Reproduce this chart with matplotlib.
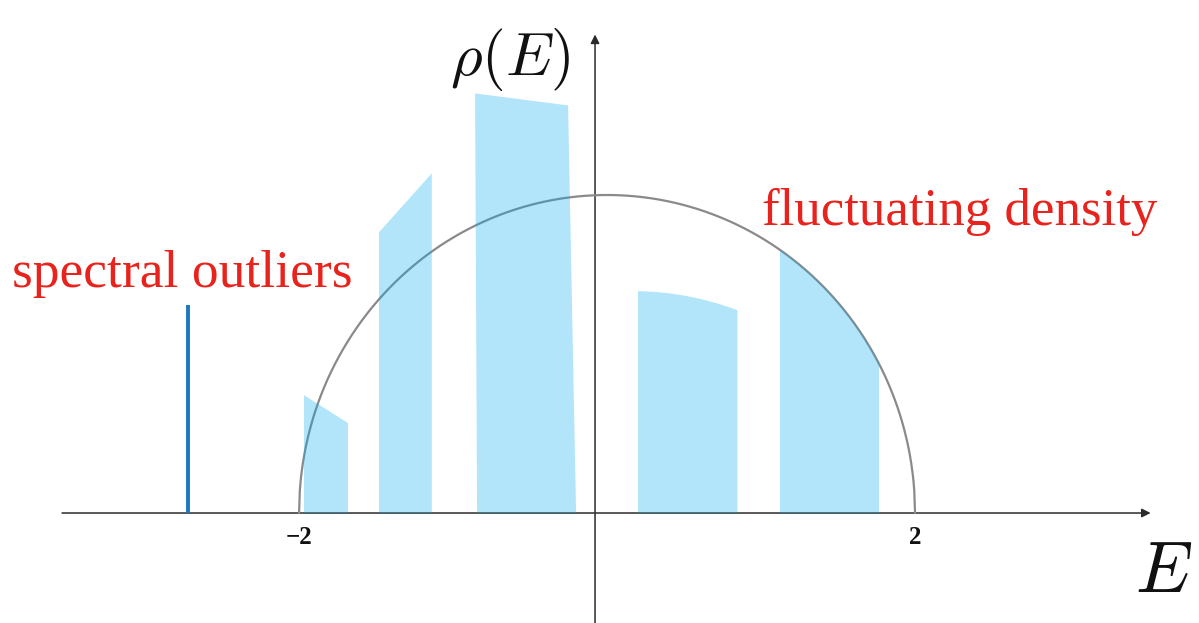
import numpy as np
import matplotlib
matplotlib.use("Agg")
import matplotlib.pyplot as plt
from matplotlib.patches import Polygon, PathPatch
from matplotlib.path import Path

plt.rcParams["mathtext.fontset"] = "cm"

# Fluctuating blocks of density: (E_left, E_right, top_left, top_right)
block_edges_bottom = [(-1.968, -1.682), (-1.481, -1.138), (-0.844, -0.201)]
block_edges_top = [(-1.968, -1.682), (-1.481, -1.138), (-0.857, -0.253)]
block_tops = [(0.118, 0.090), (0.281, 0.340), (0.420, 0.408)]

# Block with a rounded top: edges and heights at left, middle, right
arc_block_edges = (0.201, 0.847)
arc_block_tops = (0.222, 0.217, 0.203)

# Block that follows the semicircle
circle_block_edges = (1.123, 1.766)

# Isolated outlier eigenvalue
outlier_E = -2.721
outlier_height = 0.208

tick_values = [-2, 2]
tick_labels = ["\u22122", "2"]

BLUE_FILL = "#00aaee"
RED = "#e8231d"
GREY = "#8a8a8a"
AXIS = "#2b2b2b"


def semicircle(E):
    return np.sqrt(np.clip(4.0 - E ** 2, 0, None)) / (2 * np.pi)


fig = plt.figure(figsize=(11.99, 6.23), dpi=100)
ax = fig.add_axes([0, 0, 1, 1])
ax.set_xlim(-3.942, 3.844)
ax.set_ylim(-0.1101, 0.5135)
ax.axis("off")

# semicircle law
E = np.linspace(-2, 2, 801)
ax.plot(E, semicircle(E), color=GREY, lw=1.6, zorder=2)

# straight-topped blocks
for (bl, br), (tl, tr), (hl, hr) in zip(block_edges_bottom, block_edges_top, block_tops):
    poly = Polygon([(bl, 0), (br, 0), (tr, hr), (tl, hl)], closed=True,
                   facecolor=BLUE_FILL, alpha=0.3, edgecolor="none", zorder=3)
    ax.add_patch(poly)

# rounded-top block (quadratic curve through the three heights)
xl, xr = arc_block_edges
hl, hm, hr = arc_block_tops
xm = 0.5 * (xl + xr)
ctrl = (xm, 2 * hm - 0.5 * (hl + hr))
verts = [(xl, 0), (xl, hl), ctrl, (xr, hr), (xr, 0), (xl, 0)]
codes = [Path.MOVETO, Path.LINETO, Path.CURVE3, Path.CURVE3, Path.LINETO, Path.CLOSEPOLY]
ax.add_patch(PathPatch(Path(verts, codes), facecolor=BLUE_FILL, alpha=0.3,
                       edgecolor="none", zorder=3))

# block bounded by the semicircle
Ec = np.linspace(*circle_block_edges, 200)
ax.fill_between(Ec, 0, semicircle(Ec), facecolor=BLUE_FILL, alpha=0.3,
                edgecolor="none", zorder=3)

# outlier
ax.plot([outlier_E, outlier_E], [0, outlier_height], color="#1a78c2",
        lw=2.8, solid_capstyle="butt", zorder=4)

# axes with arrows
ax.annotate("", xy=(3.53, 0), xytext=(-3.539, 0),
            arrowprops=dict(arrowstyle="-|>", color=AXIS, lw=1.1,
                            mutation_scale=13, shrinkA=0, shrinkB=0), zorder=1)
ax.annotate("", xy=(-0.078, 0.479), xytext=(-0.078, -0.12),
            arrowprops=dict(arrowstyle="-|>", color=AXIS, lw=1.1,
                            mutation_scale=13, shrinkA=0, shrinkB=0), zorder=1)

# tick labels
for v, lab in zip(tick_values, tick_labels):
    ax.text(v, -0.025, lab, ha="center", va="center", fontsize=18,
            fontweight="bold", family="Liberation Serif", color="#111111")

# axis titles
ax.text(-0.63, 0.454, r"$\rho(E)$", ha="center", va="center", fontsize=44, color="#111111")
ax.text(3.615, -0.060, r"$E$", ha="center", va="center", fontsize=52, color="#111111")

# annotations
ax.text(-3.865, 0.226, "spectral outliers", ha="left", va="baseline",
        fontsize=38.5, family="Liberation Serif", color=RED)
ax.text(1.006, 0.288, "fluctuating density", ha="left", va="baseline",
        fontsize=38.2, family="Liberation Serif", color=RED)

fig.savefig("out.png", dpi=100, facecolor="white")
